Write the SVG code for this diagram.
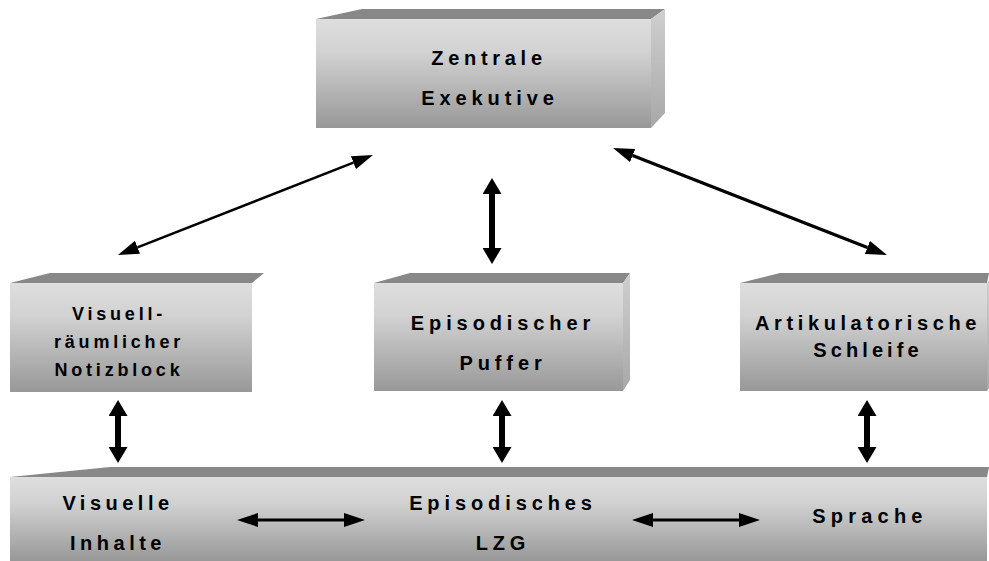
<svg xmlns="http://www.w3.org/2000/svg" width="989" height="561" viewBox="0 0 989 561">
  <defs>
    <linearGradient id="front" x1="0" y1="0" x2="0" y2="1">
      <stop offset="0" stop-color="#dedede"/>
      <stop offset="0.3" stop-color="#d2d2d2"/>
      <stop offset="1" stop-color="#989898"/>
    </linearGradient>
    <linearGradient id="side" x1="0" y1="0" x2="0" y2="1">
      <stop offset="0" stop-color="#cfcfcf"/>
      <stop offset="1" stop-color="#a8a8a8"/>
    </linearGradient>
    <!-- heavy head for the short vertical links -->
    <marker id="headBold" viewBox="0 0 16 19" refX="0" refY="9.5" markerWidth="16" markerHeight="19" markerUnits="userSpaceOnUse" orient="auto-start-reverse">
      <path d="M0,0 L16,9.5 L0,19 z" fill="#000"/>
    </marker>
    <!-- slimmer, longer head for diagonal and horizontal links -->
    <marker id="headSlim" viewBox="0 0 21 14" refX="0" refY="7" markerWidth="21" markerHeight="14" markerUnits="userSpaceOnUse" orient="auto-start-reverse">
      <path d="M0,0 L21,7 L0,14 z" fill="#000"/>
    </marker>
  </defs>
  <style>
    .front { fill: url(#front); }
    .top { fill: #888888; }
    .side { fill: url(#side); }
    .lbl { font-family: "Liberation Sans", Arial, sans-serif; font-weight: bold; font-size: 20px; letter-spacing: 4.9px; fill: #000; text-anchor: middle; }
    .tight { font-size: 18px; letter-spacing: 3.8px; }
    .link { stroke: #000; fill: none; }
    .bold { stroke-width: 6; marker-start: url(#headBold); marker-end: url(#headBold); }
    .slim { marker-start: url(#headSlim); marker-end: url(#headSlim); }
  </style>
  <rect width="989" height="561" fill="#fff"/>

  <g id="zentrale-exekutive">
    <polygon class="top" points="316,19 362,9 665,9 651,19"/>
    <polygon class="side" points="651,19 665,9 665,113 651,128"/>
    <rect class="front" x="316" y="19" width="335" height="109"/>
    <text class="lbl" x="489" y="65" style="letter-spacing:4.7px">Zentrale</text>
    <text class="lbl" x="490" y="105">Exekutive</text>
  </g>

  <g id="notizblock">
    <polygon class="top" points="10,283 50,273 264,273 252,283"/>
    <rect class="front" x="10" y="283" width="242" height="109"/>
    <text class="lbl tight" x="119" y="320">Visuell-</text>
    <text class="lbl tight" x="119" y="348">räumlicher</text>
    <text class="lbl tight" x="119" y="376">Notizblock</text>
  </g>

  <g id="puffer">
    <polygon class="top" points="374,283 410,273 630,273 623,283"/>
    <polygon class="side" points="623,283 630,273 630,380 623,391"/>
    <rect class="front" x="374" y="283" width="249" height="108"/>
    <text class="lbl" x="503" y="330">Episodischer</text>
    <text class="lbl" x="503" y="370">Puffer</text>
  </g>

  <g id="schleife">
    <polygon class="top" points="740,283 780,273 989,273 987,283"/>
    <polygon class="side" points="987,283 989,280 989,388 987,391"/>
    <rect class="front" x="740" y="283" width="247" height="108"/>
    <text class="lbl" x="868" y="330" style="letter-spacing:4.6px">Artikulatorische</text>
    <text class="lbl" x="868" y="357" style="letter-spacing:4.1px">Schleife</text>
  </g>

  <g id="lzg">
    <polygon class="top" points="10,477 110,467 989,467 987,477"/>
    <rect class="front" x="10" y="477" width="977" height="84"/>
    <text class="lbl" x="118" y="510" style="letter-spacing:4.5px">Visuelle</text>
    <text class="lbl" x="118" y="550" style="letter-spacing:4.5px">Inhalte</text>
    <text class="lbl" x="503" y="510">Episodisches</text>
    <text class="lbl" x="503" y="550">LZG</text>
    <text class="lbl" x="870" y="523" style="letter-spacing:5.2px">Sprache</text>
  </g>

  <g id="connectors">
    <line class="link slim" x1="137.5" y1="247.3" x2="353.4" y2="162.7" stroke-width="2.5"/>
    <line class="link slim" x1="632.6" y1="155.6" x2="867.4" y2="247.4" stroke-width="3.2"/>
    <line class="link bold" x1="492" y1="194" x2="492" y2="248"/>
    <line class="link bold" x1="118" y1="416" x2="118" y2="447"/>
    <line class="link bold" x1="502" y1="416" x2="502" y2="447"/>
    <line class="link bold" x1="867" y1="416" x2="867" y2="447"/>
    <line class="link slim" x1="258" y1="520" x2="344" y2="520" stroke-width="3"/>
    <line class="link slim" x1="653" y1="520" x2="739" y2="520" stroke-width="3"/>
  </g>
</svg>
